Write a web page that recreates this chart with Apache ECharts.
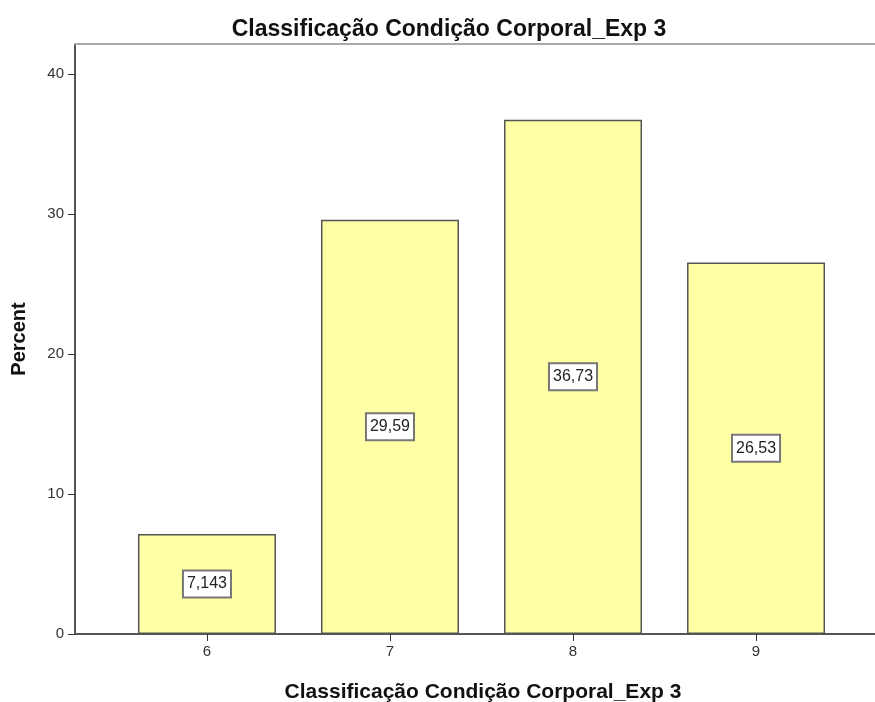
<!DOCTYPE html>
<html>
<head>
<meta charset="utf-8">
<script src="https://cdn.jsdelivr.net/npm/echarts@6/dist/echarts.min.js"></script>
<style>
	html, body { margin: 0; padding: 0; background: #fff; }
	#chart { width: 875px; height: 702px; }
</style>
</head>
<body>
<div id="chart"></div>
<script>
// dados do gráfico
var categories = [6, 7, 8, 9];
var percents = [7.143, 29.59, 36.73, 26.53];
var percentLabels = ["7,143", "29,59", "36,73", "26,53"];
var yTicks = [0, 10, 20, 30, 40];

var chartTitle = "Classificação Condição Corporal_Exp 3";
var font = "Arial, 'Liberation Sans', sans-serif";

var seriesData = [];
for (var i = 0; i < categories.length; i++) {
	seriesData.push({ value: [categories[i], percents[i]], labelText: percentLabels[i] });
}

var myChart = echarts.init(document.getElementById("chart"));
myChart.setOption({
	animation: false,
	title: {
		text: chartTitle,
		left: 444,
		textAlign: "center",
		top: 13,
		textStyle: { fontFamily: font, fontSize: 23, fontWeight: "bold", color: "#111" }
	},
	grid: { left: 75, right: 0, top: 44, bottom: 68, containLabel: false, outerBoundsMode: "none" },
	xAxis: [{
		type: "value",
		min: 5.279,
		max: 9.65,
		splitLine: { show: false },
		axisLine: { lineStyle: { color: "#555", width: 2 } },
		axisTick: { show: true, length: 7, customValues: categories, lineStyle: { color: "#333", width: 1 } },
		axisLabel: { customValues: categories, color: "#333", fontFamily: font, fontSize: 15, margin: 10 },
		name: chartTitle,
		nameLocation: "middle",
		nameGap: 48,
		nameTextStyle: { fontFamily: font, fontSize: 21, fontWeight: "bold", color: "#111", padding: [0, 0, 0, 16] }
	}, {
		type: "value",
		position: "top",
		min: 5.279,
		max: 9.65,
		splitLine: { show: false },
		axisLine: { show: true, onZero: false, lineStyle: { color: "#aaa", width: 2 } },
		axisTick: { show: false },
		axisLabel: { show: false }
	}],
	yAxis: {
		type: "value",
		min: 0,
		max: 42.14,
		splitLine: { show: false },
		axisLine: { show: true, lineStyle: { color: "#555", width: 2 } },
		axisTick: { show: true, length: 7, customValues: yTicks, lineStyle: { color: "#333" } },
		axisLabel: { customValues: yTicks, color: "#333", fontFamily: font, fontSize: 15, margin: 11 },
		name: "Percent",
		nameLocation: "middle",
		nameGap: 46,
		nameTextStyle: { fontFamily: font, fontSize: 20, fontWeight: "bold", color: "#111" }
	},
	series: [{
		type: "bar",
		xAxisIndex: 0,
		barWidth: 138,
		data: seriesData,
		itemStyle: { color: "#ffffa6", borderColor: "#555", borderWidth: 1.5 },
		label: {
			show: true,
			position: "inside",
			formatter: function(p) { return p.data.labelText; },
			fontFamily: font,
			fontSize: 16,
			color: "#222",
			backgroundColor: "#fff",
			borderColor: "#777",
			borderWidth: 2,
			padding: [5, 3, 4, 3]
		}
	}]
});
</script>
</body>
</html>
